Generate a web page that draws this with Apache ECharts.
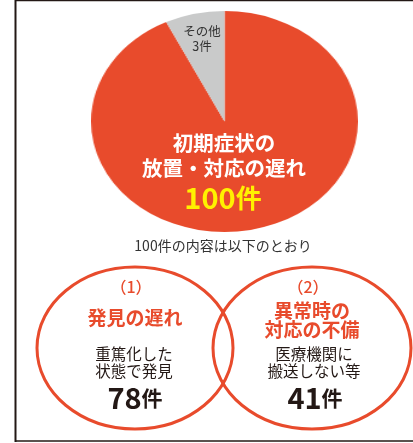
<!DOCTYPE html>
<html><head><meta charset="utf-8">
<script src="https://cdn.jsdelivr.net/npm/echarts@6/dist/echarts.min.js"></script>
<style>
html,body{margin:0;padding:0;background:#fff;width:413px;height:443px;overflow:hidden;}
#pie{position:absolute;left:114px;top:10.5px;width:221px;height:221px;transform:scaleX(1.208);transform-origin:50% 50%;}
#over{position:absolute;left:0;top:0;width:413px;height:443px;}
</style></head>
<body>
<div id="pie"></div>
<div id="over"></div>
<script>
// ---- data ----
const sliceNames = ['初期症状の放置・対応の遅れ', 'その他'];
const sliceShares = [92.8, 7.2];          // angular share as drawn in the picture
const sliceCounts = [100, 3];              // counts printed on the chart
const sliceLabelLines = [['初期症状の', '放置・対応の遅れ'], ['その他']];
const subtitle = '100件の内容は以下のとおり';
const subIndex = ['（1）', '（2）'];
const subTitles = [['発見の遅れ'], ['異常時の', '対応の不備']];
const subDescs = [['重篤化した', '状態で発見'], ['医療機関に', '搬送しない等']];
const subCounts = [78, 41];

const RED = '#E84B2C', GRAY = '#C9CACA', YEL = '#FFF100', INK = '#231815';
const FONT = '"Noto Sans CJK JP", "Noto Sans", sans-serif';

const pie = echarts.init(document.getElementById('pie'), null, {renderer: 'canvas'});
pie.setOption({
  animation: false,
  series: [{
    type: 'pie', radius: ['0%', '100%'], center: ['50%', '50%'],
    startAngle: 90, clockwise: true, silent: true,
    label: {show: false}, labelLine: {show: false},
    itemStyle: {borderWidth: 0},
    data: sliceNames.map((n, i) => ({name: n, value: sliceShares[i], itemStyle: {color: i === 0 ? RED : GRAY}}))
  }]
});

const over = echarts.init(document.getElementById('over'));
function txt(x, y, text, opt) {
  return {type: 'text', x: x, y: y, z: 10, style: Object.assign({text: text, align: 'center', verticalAlign: 'middle', fontFamily: FONT}, opt)};
}
const els = [];
// frame
els.push({type: 'line', shape: {x1: 15.5, y1: 0, x2: 15.5, y2: 442}, style: {stroke: INK, lineWidth: 2}});
els.push({type: 'line', shape: {x1: 15, y1: 0.5, x2: 413, y2: 0.5}, style: {stroke: INK, lineWidth: 1.5}});
els.push({type: 'line', shape: {x1: 15, y1: 441, x2: 413, y2: 441}, style: {stroke: INK, lineWidth: 1.5}});
// pie labels
els.push(txt(202, 38.5, sliceLabelLines[1][0] + '\n' + sliceCounts[1] + '件', {fill: '#333', fontSize: 12.5, lineHeight: 15}));
els.push(txt(224, 155.5, sliceLabelLines[0].join('\n'), {fill: '#fff', fontSize: 20.5, fontWeight: 'bold', lineHeight: 25}));
els.push(txt(223, 198, '{n|' + sliceCounts[0] + '}{u|件}', {rich: {
  n: {fontSize: 29, fontWeight: 'bold', fill: YEL, fontFamily: FONT},
  u: {fontSize: 26, fontWeight: 'bold', fill: YEL, fontFamily: FONT}
}}));
els.push(txt(223, 246, subtitle, {fill: '#333', fontSize: 14}));
// sub circles
const cx = [135, 312], rx = [98, 99];
const titleY = [318, 320.5], countX = [135, 315], descX = [134, 314];
for (let i = 0; i < 2; i++) {
  els.push({type: 'ellipse', shape: {cx: cx[i], cy: 348, rx: rx[i], ry: 81}, style: {fill: 'none', stroke: RED, lineWidth: 3}});
  els.push(txt(cx[i] - 4, 287, subIndex[i], {fill: RED, fontSize: 16, fontWeight: 500}));
  els.push(txt(cx[i], titleY[i], subTitles[i].join('\n'), {fill: RED, fontSize: 19, fontWeight: 'bold', lineHeight: 19}));
  els.push(txt(descX[i], 362.5, subDescs[i].join('\n'), {fill: INK, fontSize: 15.5, lineHeight: 17}));
  els.push(txt(countX[i], 398, '{n|' + subCounts[i] + '}{u|件}', {rich: {
    n: {fontSize: 29, fontWeight: 'bold', fill: INK, fontFamily: FONT},
    u: {fontSize: 21, fontWeight: 'bold', fill: INK, fontFamily: FONT}
  }}));
}
over.setOption({animation: false, graphic: {elements: els}});
</script>
</body></html>
